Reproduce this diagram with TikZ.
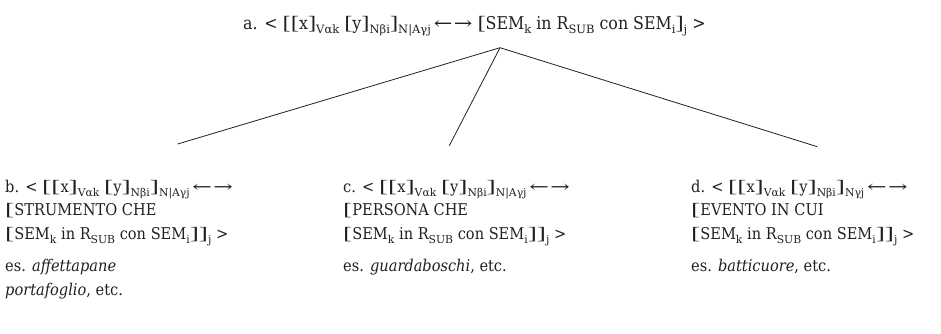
\documentclass[tikz,border=0pt]{standalone}
\usepackage{fontspec}
\IfFontExistsTF{DejaVu Serif Condensed}{\setmainfont{DejaVu Serif Condensed}}{\setmainfont{DejaVu Serif}}
\newfontfamily\subfont{DejaVu Serif}
\newfontfamily\brfont{Liberation Serif}
\def\subsz{10.5}
\def\bks{1.5}
\def\ars{1.4}
\newcommand\sbs[1]{\raisebox{-0.26em}{\subfont\fontsize{\subsz}{\subsz}\selectfont #1}}
\newcommand\LB{{\brfont\scalebox{\bks}[1.08]{[}}}
\newcommand\RB{{\brfont\scalebox{\bks}[1.08]{]}}}
\newcommand\lrarr{\,\scalebox{\ars}[1]{←}\kern1.5pt\scalebox{\ars}[1]{→}}
\definecolor{ink}{HTML}{231F20}
\begin{document}
\begin{tikzpicture}[x=1pt,y=-1pt,
  txt/.style={anchor=base west, inner sep=0pt, text=ink, font=\fontsize{16.2}{19}\selectfont\def\subsz{10.8}\def\bks{1.7}\def\ars{1.6}},
  toptxt/.style={txt, font=\fontsize{17.6}{20}\selectfont\def\subsz{11.5}\def\bks{1.4}\def\ars{1.4}},
  conn/.style={draw=ink, line width=0.8pt}]
\useasboundingbox (0,0) rectangle (941,333);
% top
\node[toptxt] (a) at (243,29) {a. < \LB\LB x\RB\sbs{Vαk} \LB y\RB\sbs{Nβi}\RB\sbs{N|Aγj}\lrarr\ \LB SEM\sbs{k} in R\sbs{SUB} con SEM\sbs{i}\RB\sbs{j} >};
% block b
\node[txt] (b1) at (5,192) {b. < \LB\LB x\RB\sbs{Vαk} \LB y\RB\sbs{Nβi}\RB\sbs{N|Aγj}\lrarr};
\node[txt] (b2) at (5,215) {\LB STRUMENTO CHE};
\node[txt] (b3) at (5,239) {\LB SEM\sbs{k} in R\sbs{SUB} con SEM\sbs{i}\RB\RB\sbs{j} >};
\node[txt] (b4) at (5,271) {es. \textit{affettapane}};
\node[txt] (b5) at (5,295) {\textit{portafoglio}, etc.};
% block c
\node[txt] (c1) at (343,192) {c. < \LB\LB x\RB\sbs{Vαk} \LB y\RB\sbs{Nβi}\RB\sbs{N|Aγj}\lrarr};
\node[txt] (c2) at (343,215) {\LB PERSONA CHE};
\node[txt] (c3) at (343,239) {\LB SEM\sbs{k} in R\sbs{SUB} con SEM\sbs{i}\RB\RB\sbs{j} >};
\node[txt] (c4) at (343,271) {es. \textit{guardaboschi}, etc.};
% block d
\node[txt] (d1) at (691,192) {d. < \LB\LB x\RB\sbs{Vαk} \LB y\RB\sbs{Nβi}\RB\sbs{Nγj}\lrarr};
\node[txt] (d2) at (691,215) {\LB EVENTO IN CUI};
\node[txt] (d3) at (691,239) {\LB SEM\sbs{k} in R\sbs{SUB} con SEM\sbs{i}\RB\RB\sbs{j} >};
\node[txt] (d4) at (691,271) {es. \textit{batticuore}, etc.};
% connectors
\coordinate (apex) at (500,47.7);
\coordinate (bend) at (177.7,144);
\coordinate (cend) at (449.3,145.7);
\coordinate (dend) at (817.3,146.7);
\draw[conn] (apex) -- (bend);
\draw[conn] (apex) -- (cend);
\draw[conn] (apex) -- (dend);
\end{tikzpicture}
\end{document}
